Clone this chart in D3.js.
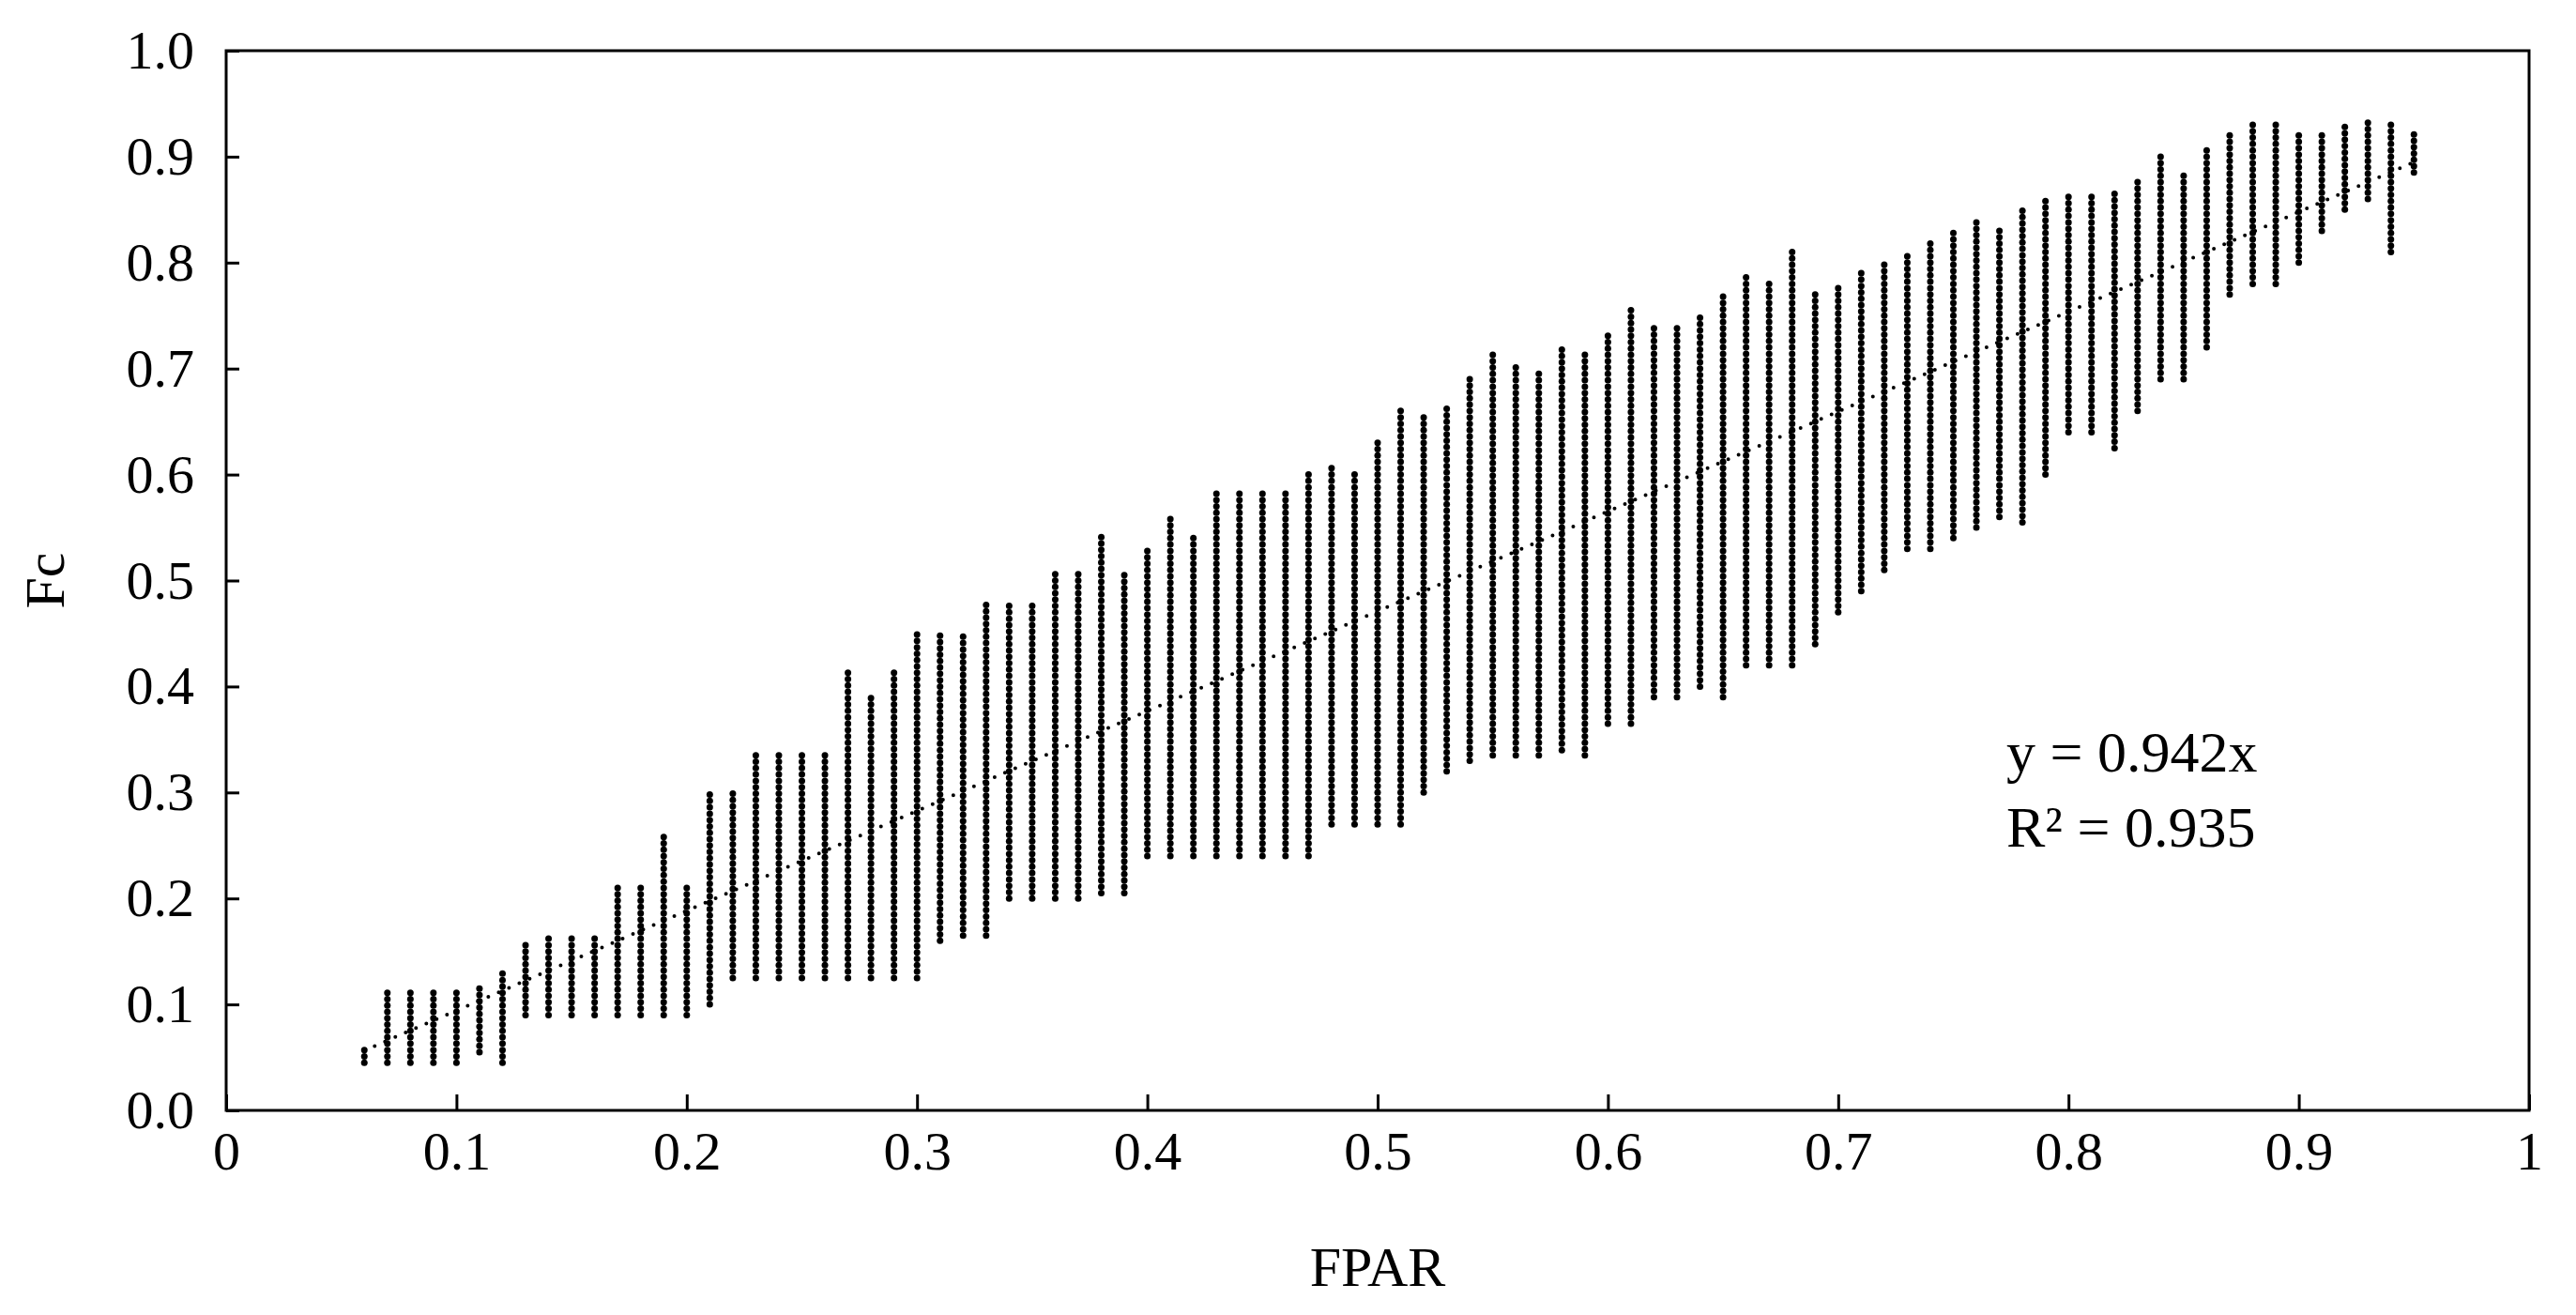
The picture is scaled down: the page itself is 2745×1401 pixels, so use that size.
<!DOCTYPE html>
<html><head><meta charset="utf-8">
<script src="https://cdn.jsdelivr.net/npm/d3@7"></script>
<style>body{margin:0;background:#fff}svg text{font-family:"Liberation Serif","DejaVu Serif",serif;fill:#000}</style>
</head><body><svg id="c" width="2745" height="1401"></svg>
<script>
// FPAR columns (0.06 .. 0.95 step 0.01)
const fpar = d3.range(6, 96).map(v => v / 100);
const fcMin = [.045,.045,.045,.045,.045,.055,.045,.09,.09,.09,.09,.09,.09,.09,.09,.10,.125,.125,.125,.125,.125,.125,.125,.125,.125,.16,.165,.165,.20,.20,.20,.20,.205,.205,.24,.24,.24,.24,.24,.24,.24,.24,.27,.27,.27,.27,.30,.32,.33,.335,.335,.335,.34,.335,.365,.365,.39,.39,.40,.39,.42,.42,.42,.44,.47,.49,.51,.53,.53,.54,.55,.56,.555,.60,.64,.64,.625,.66,.69,.69,.72,.77,.78,.78,.80,.83,.85,.86,.81,.885];
const fcMax = [.06,.115,.115,.115,.115,.115,.13,.16,.165,.165,.165,.215,.215,.26,.215,.30,.30,.34,.34,.34,.34,.415,.39,.415,.45,.45,.45,.48,.48,.48,.51,.51,.545,.51,.53,.56,.545,.585,.585,.585,.585,.60,.61,.60,.63,.665,.655,.665,.69,.715,.705,.70,.72,.715,.735,.755,.74,.74,.75,.77,.79,.78,.81,.77,.78,.79,.80,.81,.82,.83,.84,.835,.85,.86,.865,.865,.865,.88,.905,.885,.91,.92,.935,.935,.92,.92,.93,.935,.935,.925];
const fcStep = 0.006; // Fc quantisation level spacing
const slope = 0.942, r2 = 0.935;
const xTicks = [0,0.1,0.2,0.3,0.4,0.5,0.6,0.7,0.8,0.9,1];
const yTicks = [0,0.1,0.2,0.3,0.4,0.5,0.6,0.7,0.8,0.9,1.0];

const svg = d3.select("#c");
const L=241,R=2695,T=54,B=1183;
const x = d3.scaleLinear().domain([0,1]).range([L,R]);
const y = d3.scaleLinear().domain([0,1]).range([B,T]);

const pts = [];
fpar.forEach((f,i)=>{ for(let v=fcMin[i]; v<=fcMax[i]+1e-9; v+=fcStep) pts.push([f,v]); });
svg.append("g").selectAll("circle").data(pts).join("circle")
  .attr("cx",d=>x(d[0])).attr("cy",d=>y(d[1])).attr("r",3.5).attr("fill","#000");

svg.append("line").attr("x1",x(0.06)).attr("y1",y(0.06*slope)).attr("x2",x(0.95)).attr("y2",y(0.95*slope))
  .attr("stroke","#000").attr("stroke-width",4).attr("stroke-linecap","round").attr("stroke-dasharray","0 12");

svg.append("rect").attr("x",L).attr("y",T).attr("width",R-L).attr("height",B-T)
  .attr("fill","none").attr("stroke","#000").attr("stroke-width",3);

const xa = svg.append("g").attr("transform",`translate(0,${B})`)
  .call(d3.axisBottom(x).tickValues(xTicks).tickFormat(d=>d===0?"0":d===1?"1":d3.format(".1f")(d)).tickSizeInner(-17).tickSizeOuter(0).tickPadding(22));
const ya = svg.append("g").attr("transform",`translate(${L},0)`)
  .call(d3.axisLeft(y).tickValues(yTicks).tickFormat(d3.format(".1f")).tickSizeInner(-14).tickSizeOuter(0).tickPadding(34));
[xa,ya].forEach(a=>{a.attr("font-size",58).attr("font-family","Liberation Serif");a.select(".domain").remove();a.selectAll("line").attr("stroke","#000").attr("stroke-width",3);
  a.selectAll("text").attr("font-size",58).style("font-family","Liberation Serif");});
xa.selectAll("text").attr("dy","0.71em");

svg.append("text").attr("x",(L+R)/2).attr("y",1370).attr("text-anchor","middle").attr("font-size",60).text("FPAR");
svg.append("text").attr("transform",`translate(68,${(T+B)/2}) rotate(-90)`).attr("text-anchor","middle").attr("font-size",60).text("Fc");
svg.append("text").attr("x",2138).attr("y",822).attr("font-size",62).text(`y = ${slope}x`);
svg.append("text").attr("x",2138).attr("y",902).attr("font-size",62).text(`R² = ${r2}`);
</script></body></html>
